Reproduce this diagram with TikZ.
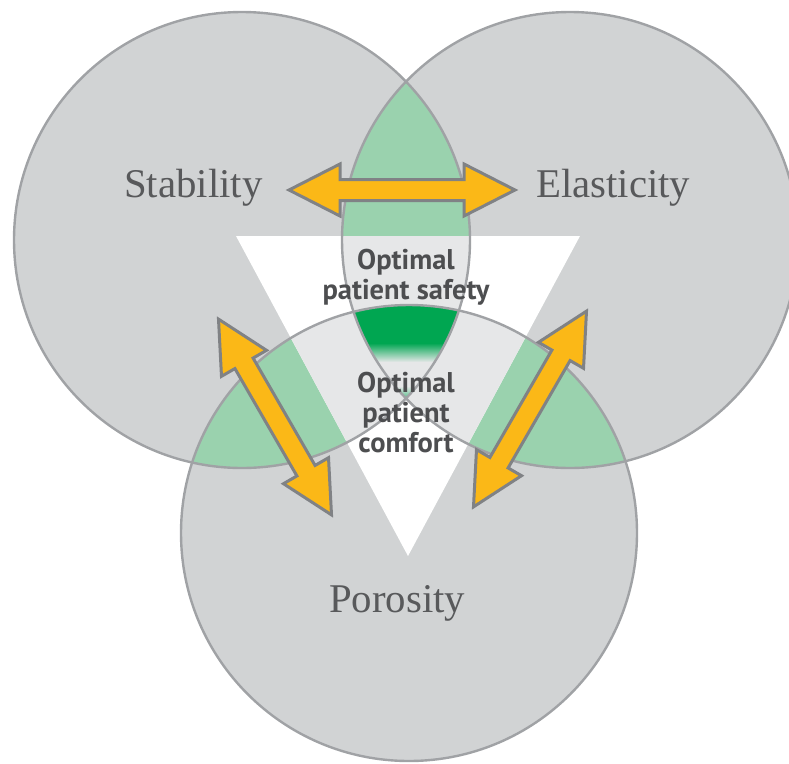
\documentclass[tikz,border=0pt]{standalone}
\usepackage{fontspec}
\setmainfont{Liberation Serif}
\newfontfamily\keysans{PT Sans}

\definecolor{discgrey}{HTML}{D1D3D4}
\definecolor{rimgrey}{HTML}{A0A2A5}
\definecolor{lensgreen}{HTML}{9AD2AE}
\definecolor{innergrey}{HTML}{E6E7E8}
\definecolor{coregreen}{HTML}{00A651}
\definecolor{arrowgold}{HTML}{FBB817}
\definecolor{arrowedge}{HTML}{808285}
\definecolor{wordgrey}{HTML}{58595B}
\definecolor{keygrey}{HTML}{4D4E50}

\tikzset{
  disc/.style={fill=discgrey},
  rim/.style={draw=rimgrey, line width=2.4pt},
  twinarrow/.style={fill=arrowgold, draw=arrowedge, line width=3pt, line join=miter},
  bigword/.style={inner sep=0pt, text=wordgrey, font=\fontsize{40.8}{46}\selectfont},
  keytext/.style={inner sep=0pt, text=keygrey, align=center,
    font=\keysans\bfseries\fontsize{28.5}{30}\selectfont},
}

% double-headed arrow centred at (#1,#2), turned by #3 degrees
\newcommand\twinarrowat[3]{%
  \draw[twinarrow, shift={(#1,#2)}, rotate=#3]
    (-113,0) -- (-62,26) -- (-62,10.5) -- (62,10.5) -- (62,26) -- (113,0)
    -- (62,-26) -- (62,-10.5) -- (-62,-10.5) -- (-62,-26) -- cycle;}

\def\rr{228pt}

\begin{document}
\begin{tikzpicture}[x=1pt,y=-1pt]
\useasboundingbox (0,0) rectangle (789,763);
\clip (0,0) rectangle (789,763);

\coordinate (cL) at (242,240);
\coordinate (cR) at (570,240);
\coordinate (cB) at (409,533);
\coordinate (tA) at (236,236);
\coordinate (tB) at (580,236);
\coordinate (tC) at (408,556);

% the three discs
\fill[disc] (cL) circle[radius=\rr];
\fill[disc] (cR) circle[radius=\rr];
\fill[disc] (cB) circle[radius=\rr];

% pairwise overlaps
\begin{scope}
  \clip (cL) circle[radius=\rr];
  \fill[lensgreen] (cR) circle[radius=\rr];
  \fill[lensgreen] (cB) circle[radius=\rr];
\end{scope}
\begin{scope}
  \clip (cR) circle[radius=\rr];
  \fill[lensgreen] (cB) circle[radius=\rr];
\end{scope}

% central triangle
\fill[white] (tA) -- (tB) -- (tC) -- cycle;

% overlaps seen through the triangle
\begin{scope}
  \clip (tA) -- (tB) -- (tC) -- cycle;
  \begin{scope}
    \clip (cL) circle[radius=\rr];
    \fill[innergrey] (cR) circle[radius=\rr];
    \fill[innergrey] (cB) circle[radius=\rr];
  \end{scope}
  \begin{scope}
    \clip (cR) circle[radius=\rr];
    \fill[innergrey] (cB) circle[radius=\rr];
  \end{scope}
  % common core of all three discs
  \begin{scope}
    \clip (cL) circle[radius=\rr];
    \clip (cR) circle[radius=\rr];
    \clip (cB) circle[radius=\rr];
    \fill[coregreen] (300,290) rectangle (520,343);
    \shade[top color=coregreen, bottom color=innergrey] (300,343) rectangle (520,362);
    \shade[top color=innergrey, bottom color=coregreen!70!innergrey] (300,386) rectangle (520,400);
  \end{scope}
\end{scope}

% outlines
\draw[rim] (cL) circle[radius=\rr];
\draw[rim] (cR) circle[radius=\rr];
\draw[rim] (cB) circle[radius=\rr];

% arrows between the properties
\twinarrowat{402}{190}{0}
\twinarrowat{275}{417}{-60}
\twinarrowat{530}{409}{60}

% labels
\node[bigword, anchor=base west] (stab) at (124,197) {Stability};
\node[bigword, anchor=base west] (elas) at (536,197) {Elasticity};
\node[bigword, anchor=base west] (poro) at (329,612) {Porosity};
\node[keytext, anchor=base] (safety) at (406,299) {Optimal\\patient safety};
\node[keytext, anchor=base] (comfort) at (406,452) {Optimal\\patient\\comfort};
\end{tikzpicture}
\end{document}
